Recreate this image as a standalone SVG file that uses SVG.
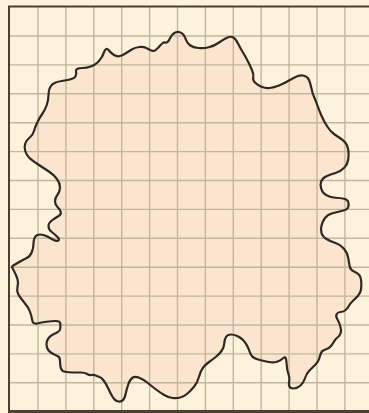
<svg xmlns="http://www.w3.org/2000/svg" width="369" height="413" viewBox="0 0 369 413">
<style>
.grid{stroke:#c2b69c;stroke-width:1.4;fill:none}
.border{stroke:#4a4034;fill:none}
.blobfill{fill:#fbe5cf;stroke:none}
.blobline{fill:none;stroke:#2e2822;stroke-width:2.2;stroke-linejoin:round}
</style>
<defs>
<path id="blob" d="M25.25,143.5 Q26.5,140 29.75,137.5 Q33,135 34,131 Q35,127 37.5,122 Q40,117 42.5,113.5 Q45,110 46.75,105 Q48.5,100 48.5,95 Q48.5,90 50.25,87 Q52,84 55,82.75 Q58,81.5 63,80.75 Q68,80 71.5,79 Q75,78 75.75,75.75 Q76.5,73.5 76,71.75 Q75.5,70 77,69 Q78.5,68 82.5,68 Q86.5,68 90.75,66.5 Q95,65 97.5,62.5 Q100,60 101.5,57.5 Q103,55 104,52.25 Q105,49.5 106.25,49 Q107.5,48.5 109.5,51 Q111.5,53.5 114,55 Q116.5,56.5 119,56.25 Q121.5,56 125,53.75 Q128.5,51.5 131.75,49.5 Q135,47.5 139.25,47 Q143.5,46.5 146.75,48.25 Q150,50 152,50.75 Q154,51.5 156,49.75 Q158,48 159.5,46.25 Q161,44.5 162.5,43.25 Q164,42 165.25,42.5 Q166.5,43 167.75,41.75 Q169,40.5 170.25,37.75 Q171.5,35 174,33.25 Q176.5,31.5 179,32 Q181.5,32.5 183.25,34.5 Q185,36.5 186,39.75 Q187,43 190,45.25 Q193,47.5 198.25,48 Q203.5,48.5 208.75,47.25 Q214,46 218.25,43 Q222.5,40 226.5,38 Q230.5,36 233,37.25 Q235.5,38.5 238,43.5 Q240.5,48.5 243,52.5 Q245.5,56.5 248,61.5 Q250.5,66.5 252.25,70.75 Q254,75 253.25,77.5 Q252.5,80 255,82.5 Q257.5,85 261.5,86.75 Q265.5,88.5 269.75,88 Q274,87.5 279,85.5 Q284,83.5 289,80.5 Q294,77.5 297.25,76.25 Q300.5,75 304,75.75 Q307.5,76.5 309,80 Q310.5,83.5 311.5,88.5 Q312.5,93.5 314,96.75 Q315.5,100 317.25,105 Q319,110 321.5,115.75 Q324,121.5 327.25,126.5 Q330.5,131.5 334,134 Q337.5,136.5 340.25,138.25 Q343,140 345.25,142.5 Q347.5,145 348.25,149.75 Q349,154.5 348.25,159.5 Q347.5,164.5 344,168 Q340.5,171.5 335.5,173 Q330.5,174.5 326.5,176.25 Q322.5,178 321.25,181.25 Q320,184.5 321.25,188.75 Q322.5,193 326.5,195.25 Q330.5,197.5 335.5,197.75 Q340.5,198 344,198.75 Q347.5,199.5 348.25,202 Q349,204.5 348.25,207 Q347.5,209.5 342.5,210.75 Q337.5,212 332.5,213.25 Q327.5,214.5 325,218 Q322.5,221.5 321.5,225.5 Q320.5,229.5 321.5,233 Q322.5,236.5 326.5,239 Q330.5,241.5 335.5,243 Q340.5,244.5 344,248.75 Q347.5,253 348.25,258 Q349,263 349.75,266.5 Q350.5,270 354,271.5 Q357.5,273 359.25,275 Q361,277 361.25,281.5 Q361.5,286 361,289.5 Q360.5,293 358,295.75 Q355.5,298.5 353,300.75 Q350.5,303 349,305.75 Q347.5,308.5 345.25,310.25 Q343,312 340.5,312 Q338,312 336.75,314 Q335.5,316 337.25,319 Q339,322 340.25,326 Q341.5,330 340.75,332.75 Q340,335.5 337.75,337.25 Q335.5,339 334.25,341.25 Q333,343.5 331,346 Q329,348.5 325.5,349.5 Q322,350.5 321,353 Q320,355.5 319.25,358.5 Q318.5,361.5 315.25,364.75 Q312,368 309.25,370.75 Q306.5,373.5 305,378.25 Q303.5,383 300.25,385.75 Q297,388.5 293.5,388.5 Q290,388.5 289.25,386 Q288.5,383.5 289.25,381 Q290,378.5 288.5,374.25 Q287,370 286.75,365 Q286.5,360 285.75,358.25 Q285,356.5 282.75,358.5 Q280.5,360.5 277,361.75 Q273.5,363 268.75,362 Q264,361 259,359.75 Q254,358.5 252.25,356.5 Q250.5,354.5 249.75,352 Q249,349.5 247.25,346 Q245.5,342.5 243,340 Q240.5,337.5 237.25,336 Q234,334.5 230.75,334.5 Q227.5,334.5 226,337 Q224.5,339.5 224.25,343.5 Q224,347.5 221.5,351 Q219,354.5 215.75,357 Q212.5,359.5 209,362 Q205.5,364.5 203,367.75 Q200.5,371 199,376.75 Q197.5,382.5 194,386.75 Q190.5,391 187.25,393.75 Q184,396.5 180.25,397.5 Q176.5,398.5 172.5,398 Q168.5,397.5 164.25,395 Q160,392.5 155.75,389.25 Q151.5,386 147.5,382.75 Q143.5,379.5 139.25,377.75 Q135,376 132.5,377.75 Q130,379.5 128.25,384.5 Q126.5,389.5 125.75,393.5 Q125,397.5 123.25,399.75 Q121.5,402 118.25,401.5 Q115,401 112.5,396.75 Q110,392.5 108.25,388.5 Q106.5,384.5 104,381 Q101.5,377.5 99,376.75 Q96.5,376 95,375.25 Q93.5,374.5 91.5,375 Q89.5,375.5 87.25,374 Q85,372.5 80.75,372.5 Q76.5,372.5 72.5,372.5 Q68.5,372.5 65,371.75 Q61.5,371 60.75,367.75 Q60,364.5 60,361 Q60,357.5 58.25,356.5 Q56.5,355.5 53.25,354 Q50,352.5 48.25,350 Q46.5,347.5 46.5,344.25 Q46.5,341 48.25,338.5 Q50,336 52.5,334.75 Q55,333.5 57.5,332.25 Q60,331 60.25,328.5 Q60.5,326 60.25,323.5 Q60,321 55.75,321 Q51.5,321 46.5,321.75 Q41.5,322.5 37.25,323.5 Q33,324.5 32.25,320.25 Q31.5,316 30,311.75 Q28.5,307.5 24.25,302.5 Q20,297.5 18.25,294.25 Q16.5,291 17.5,286.75 Q18.5,282.5 17.5,279.25 Q16.5,276 15,273 Q13.5,270 12.5,268.25 Q11.5,266.5 13.25,265.5 Q15,264.5 19.25,262 Q23.5,259.5 26.75,258 Q30,256.5 31.75,252.25 Q33.5,248 33.5,243.75 Q33.5,239.5 35,237 Q36.5,234.5 40,234.5 Q43.5,234.5 46.75,236.25 Q50,238 53.25,239.75 Q56.5,241.5 58.25,240.5 Q60,239.5 57.5,237 Q55,234.5 51.75,232 Q48.5,229.5 48.5,226.25 Q48.5,223 51.75,220.5 Q55,218 58.25,216.25 Q61.5,214.5 60.75,212 Q60,209.5 57.5,207 Q55,204.5 55,201.25 Q55,198 57.5,194.75 Q60,191.5 60,187.25 Q60,183 56.75,178.75 Q53.5,174.5 48.5,171.25 Q43.5,168 37.5,164 Q31.5,160 29,157.5 Q26.5,155 25.25,151 Q24,147 25.25,143.5 Z"/>
</defs>
<rect x="0" y="0" width="369" height="413" fill="#fdf3dc"/>
<g id="shape-fill">
<use href="#blob" class="blobfill"/>
</g>
<g id="grid" class="grid">
<path d="M38,7V410M65.9,7V410M93.8,7V410M121.7,7V410M149.6,7V410M177.5,7V410M205.4,7V410M233.3,7V410M261.2,7V410M289.1,7V410M317,7V410M344.9,7V410"/>
<path d="M9,36H369M9,64.9H369M9,93.8H369M9,122.7H369M9,151.6H369M9,180.5H369M9,209.4H369M9,238.3H369M9,267.2H369M9,296.1H369M9,325H369M9,353.9H369M9,382.8H369"/>
</g>
<g id="shape-outline">
<use href="#blob" class="blobline"/>
</g>
<g id="frame" class="border">
<path d="M8,6.5H369" stroke-width="2"/>
<path d="M9,6V412" stroke-width="2"/>
<path d="M8,411.5H369" stroke-width="3"/>
</g>
</svg>
